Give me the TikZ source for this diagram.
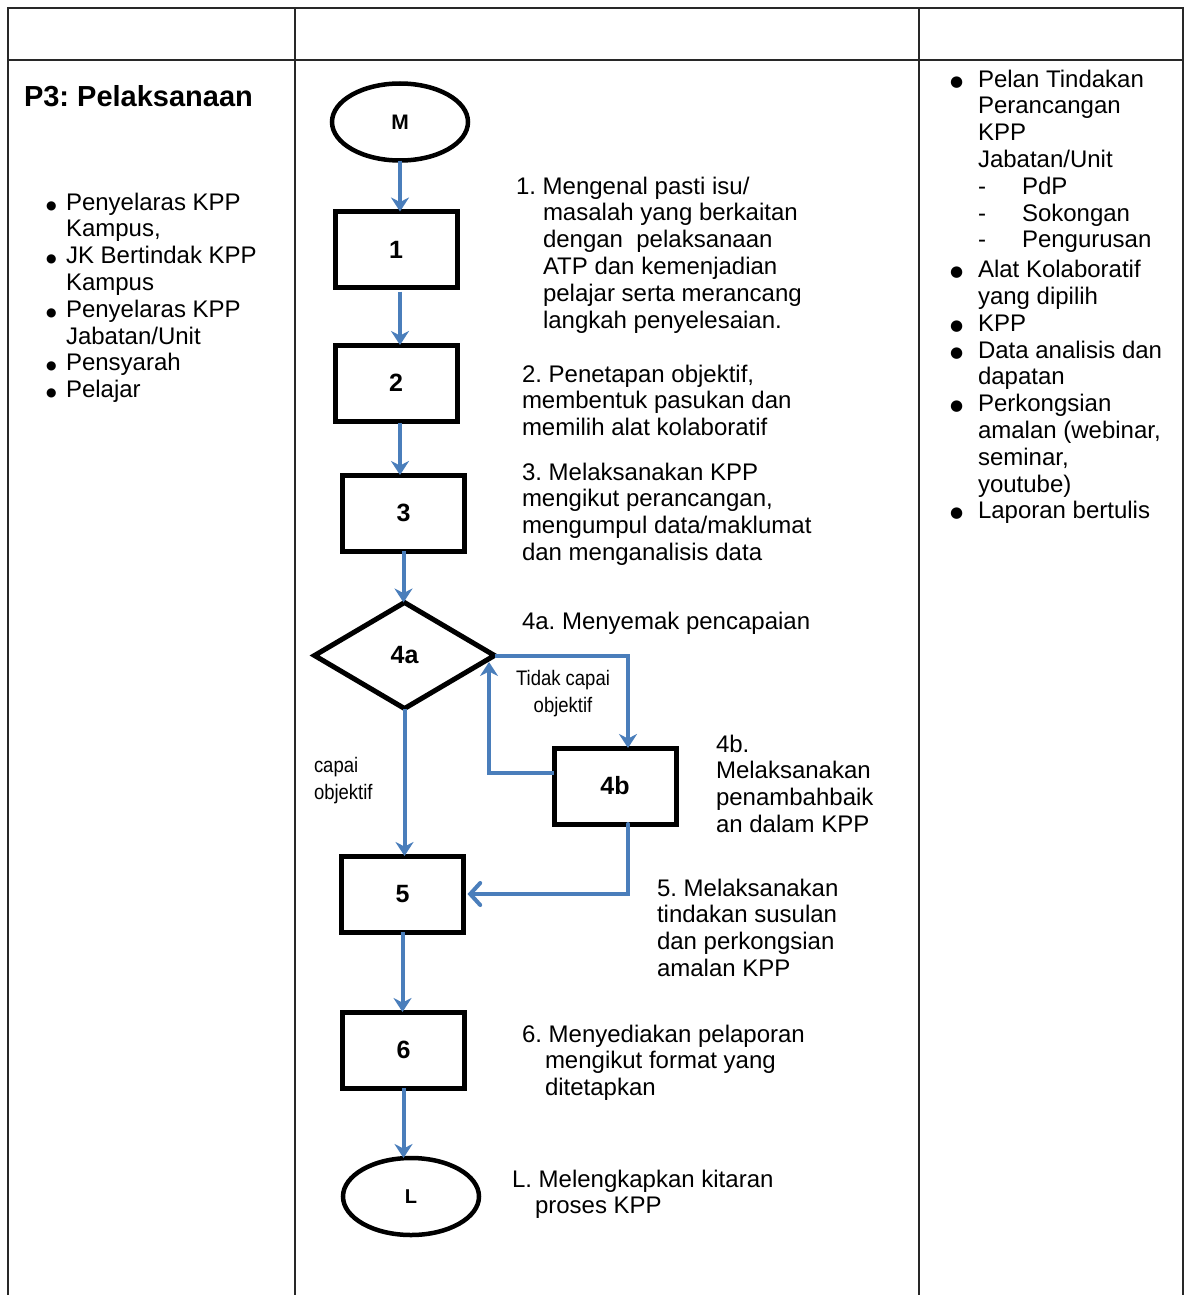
\documentclass[tikz,border=0pt]{standalone}
\usepackage{fontspec}
\setmainfont{Liberation Sans}
\newfontfamily\symfont{DejaVu Sans}
\newfontfamily\narrowfont{Liberation Sans}[FakeStretch=0.88]
\usetikzlibrary{shapes.geometric,arrows.meta}
\frenchspacing

\definecolor{flowblue}{RGB}{74,126,187}
\definecolor{gridline}{RGB}{40,40,40}

% list helpers
\newcommand\lb{\makebox[20pt][l]{\raisebox{1pt}{\symfont\fontsize{12}{12}\selectfont ●}}}
\newcommand\li{\hspace*{20pt}}
\newcommand\rb{\makebox[28pt][l]{\raisebox{1pt}{\symfont\fontsize{15}{15}\selectfont ●}}}
\newcommand\ri{\hspace*{28pt}}

\begin{document}
\begin{tikzpicture}[x=1pt,y=-1pt,
  every node/.style={outer sep=0pt},
  stepbox/.style={draw=black, line width=5pt, rectangle, minimum width=122pt,
    minimum height=76pt, inner sep=0pt, font=\fontsize{25}{25}\selectfont\bfseries},
  terminal/.style={draw=black, line width=4.5pt, ellipse, minimum width=136pt,
    minimum height=77pt, inner sep=0pt, font=\fontsize{21}{21}\selectfont\bfseries},
  decision/.style={draw=black, line width=5pt, diamond, minimum width=180pt,
    minimum height=106pt, inner sep=0pt, font=\fontsize{25}{25}\selectfont\bfseries},
  flow/.style={draw=flowblue, line width=4pt, -{Stealth[length=14pt,width=18pt]}},
  flowopen/.style={draw=flowblue, line width=4pt, line cap=round,
    -{Straight Barb[length=10pt,width=22pt,line cap=round]}},
  txt/.style={anchor=north west, align=left, inner sep=0pt,
    font=\fontsize{24}{26.8}\selectfont},
  lbl/.style={inner sep=0pt, font=\narrowfont\fontsize{21}{27}\selectfont},
  grid/.style={draw=gridline, line width=2.5pt}
]
\fill[white] (0,0) rectangle (1185,1295);
\useasboundingbox (0,0) rectangle (1185,1295);

% table frame
\draw[grid] (8,1295) -- (8,8) -- (1183,8) -- (1183,1295);
\draw[grid] (8,60) -- (1183,60);
\draw[grid] (295,8) -- (295,1295);
\draw[grid] (919,8) -- (919,1295);

% left column
\node[anchor=base west, inner sep=0pt, font=\fontsize{29}{29}\selectfont\bfseries]
  (title) at (24,107) {P3: Pelaksanaan};
\node[txt] (who) at (46,192.7) {\lb Penyelaras KPP\\\li Kampus,\\\lb JK Bertindak KPP\\\li Kampus\\\lb Penyelaras KPP\\\li Jabatan/Unit\\\lb Pensyarah\\\lb Pelajar};

% right column
\node[txt] (out) at (950,69.7) {\rb Pelan Tindakan\\\ri Perancangan\\\ri KPP\\\ri Jabatan/Unit\\\ri\makebox[44pt][l]{-}PdP\\\ri\makebox[44pt][l]{-}Sokongan\\\ri\makebox[44pt][l]{-}Pengurusan\\[3pt]\rb Alat Kolaboratif\\\ri yang dipilih\\\rb KPP\\\rb Data analisis dan\\\ri dapatan\\\rb Perkongsian\\\ri amalan (webinar,\\\ri seminar,\\\ri youtube)\\\rb Laporan bertulis};

% flow chart nodes
\node[terminal] (nM) at (400,122) {M};
\node[stepbox] (n1) at (396,249.5) {1};
\node[stepbox] (n2) at (396,383) {2};
\node[stepbox] (n3) at (403.5,513) {3};
\node[decision] (n4a) at (404.5,655.5) {4a};
\node[stepbox] (n4b) at (615,786) {4b};
\node[stepbox] (n5) at (402.5,894) {5};
\node[stepbox] (n6) at (403.5,1050) {6};
\node[terminal, font=\fontsize{20}{20}\selectfont\bfseries] (nL) at (411,1196.5) {L};
\coordinate (back) at (489,662);

% connectors
\draw[flow] (nM.south) -- (nM.south |- n1.north);
\draw[flow, shorten <=4pt] (n1.south -| nM) -- (n2.north -| nM);
\draw[flow, shorten <=2pt] (n2.south -| nM) -- (n3.north -| nM);
\draw[flow] (n3.south) -- (n3.south |- n4a.north);
\draw[flow] (n4a.south) -- (n4a.south |- n5.north);
\draw[flow] (n4a.east) -| ([xshift=13pt]n4b.north);
\draw[flow] ([yshift=13pt]n4b.west) -| (back);
\draw[flowopen] ([xshift=13pt]n4b.south) |- ([xshift=4pt]n5.east);
\draw[flow] (n5.south) -- (n5.south |- n6.north);
\draw[flow] (n6.south) -- (n6.south |- nL.north);

% branch labels
\node[lbl, align=center] (lno) at (563,693.5) {Tidak capai\\objektif};
\node[lbl, anchor=north west, align=left] (lyes) at (314,757) {capai\\objektif};

% step descriptions
\node[txt] (t1) at (516,176.7) {1. Mengenal pasti isu/\\\hspace*{27pt}masalah yang berkaitan\\\hspace*{27pt}dengan~ pelaksanaan\\\hspace*{27pt}ATP dan kemenjadian\\\hspace*{27pt}pelajar serta merancang\\\hspace*{27pt}langkah penyelesaian.};
\node[txt] (t2) at (522,364.7) {2. Penetapan objektif,\\membentuk pasukan dan\\memilih alat kolaboratif};
\node[txt] (t3) at (522,462.7) {3. Melaksanakan KPP\\mengikut perancangan,\\mengumpul data/maklumat\\dan menganalisis data};
\node[txt] (t4a) at (522,611.7) {4a. Menyemak pencapaian};
\node[txt] (t4b) at (716,734.7) {4b.\\Melaksanakan\\penambahbaik\\an dalam KPP};
\node[txt] (t5) at (657,878.7) {5. Melaksanakan\\tindakan susulan\\dan perkongsian\\amalan KPP};
\node[txt] (t6) at (522,1024.7) {6. Menyediakan pelaporan\\\hspace*{23pt}mengikut format yang\\\hspace*{23pt}ditetapkan};
\node[txt] (tL) at (512,1169.7) {L. Melengkapkan kitaran\\\hspace*{23pt}proses KPP};
\end{tikzpicture}
\end{document}
